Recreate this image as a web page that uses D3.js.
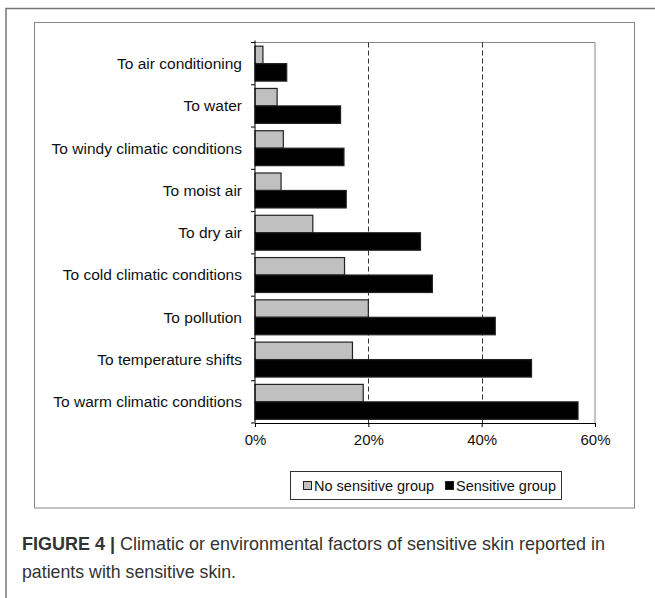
<!DOCTYPE html>
<html><head><meta charset="utf-8">
<script src="https://cdn.jsdelivr.net/npm/d3@7"></script>
<style>body{margin:0;background:#fff}svg{display:block}</style>
</head><body>
<script>
const categories = ["To air conditioning","To water","To windy climatic conditions","To moist air","To dry air","To cold climatic conditions","To pollution","To temperature shifts","To warm climatic conditions"];
const noSensitive = [1.4, 3.9, 5.0, 4.6, 10.2, 15.8, 20.0, 17.2, 19.1];
const sensitive = [5.6, 15.1, 15.7, 16.1, 29.2, 31.3, 42.4, 48.8, 57.0];
const seriesNames = ["No sensitive group","Sensitive group"];
const xTicks = [0, 20, 40, 60];

const W = 655, H = 598;
const svg = d3.select("body").append("svg").attr("width", W).attr("height", H);
const font = "'Liberation Sans', Arial, sans-serif";

// outer frame
svg.append("path").attr("d", `M6,${H} V8.5 H${W}`).attr("fill","none").attr("stroke","#777").attr("stroke-width",1.5);
// inner chart box
svg.append("rect").attr("x",34.5).attr("y",22.5).attr("width",600).attr("height",485.5)
  .attr("fill","#fff").attr("stroke","#888").attr("stroke-width",1);

const m = {left:255, right:595, top:42.5, bottom:423};
const x = d3.scaleLinear().domain([0,60]).range([m.left, m.right]);
const y = d3.scaleBand().domain(categories).range([m.top, m.bottom]).paddingInner(0).paddingOuter(0);
const inner = d3.scaleBand().domain(seriesNames).range([0, y.bandwidth()]).paddingInner(0).paddingOuter(0.21);

const g = svg.append("g");
// plot border top/right
g.append("path").attr("d", `M${m.left},${m.top} H${m.right} V${m.bottom}`).attr("fill","none").attr("stroke","#888").attr("stroke-width",1);
// gridlines
g.selectAll(".grid").data(xTicks.filter(t=>t>0 && t<60)).enter().append("line")
  .attr("x1",d=>Math.round(x(d))+0.5).attr("x2",d=>Math.round(x(d))+0.5)
  .attr("y1",m.top).attr("y2",m.bottom)
  .attr("stroke","#333").attr("stroke-dasharray","5,3").attr("stroke-width",1);

const colors = {"No sensitive group":"#c0c0c0","Sensitive group":"#000"};
const data = categories.map((c,i)=>({c, vals:[{s:seriesNames[0],v:noSensitive[i]},{s:seriesNames[1],v:sensitive[i]}]}));
const grp = g.selectAll(".cat").data(data).enter().append("g").attr("transform",d=>`translate(0,${y(d.c)})`);
grp.selectAll("rect").data(d=>d.vals).enter().append("rect")
  .attr("x", x(0)).attr("y", d=>inner(d.s)).attr("width", d=>x(d.v)-x(0)).attr("height", inner.bandwidth())
  .attr("fill", d=>colors[d.s]).attr("stroke","#222").attr("stroke-width",1.2);

// axes
const xAxis = d3.axisBottom(x).tickValues(xTicks).tickFormat(d=>d+"%").tickSize(4).tickPadding(7);
const ax = g.append("g").attr("transform",`translate(0,${m.bottom})`).call(xAxis);
ax.select(".domain").attr("stroke","#000");
ax.selectAll(".tick line").attr("stroke","#000");
ax.selectAll("text").attr("font-family",font).attr("font-size",15).attr("fill","#111");

// left axis: ticks at band boundaries
const bounds = categories.map(c=>y(c)).concat([m.bottom]);
g.append("line").attr("x1",m.left).attr("x2",m.left).attr("y1",m.top-2).attr("y2",m.bottom).attr("stroke","#000");
g.selectAll(".ytick").data(bounds).enter().append("line")
  .attr("x1",m.left-4).attr("x2",m.left).attr("y1",d=>d).attr("y2",d=>d).attr("stroke","#000");
g.selectAll(".ylab").data(categories).enter().append("text")
  .attr("x", m.left-13).attr("y", d=>y(d)+y.bandwidth()/2).attr("dy","0.35em")
  .attr("text-anchor","end").attr("font-family",font).attr("font-size",15.5).attr("fill","#111").text(d=>d);

// legend
const lg = svg.append("g");
lg.append("rect").attr("x",290.5).attr("y",471.5).attr("width",271).attr("height",28).attr("fill","#fff").attr("stroke","#333");
const legItems = [{s:seriesNames[0], x:303},{s:seriesNames[1], x:445}];
legItems.forEach(it=>{
  lg.append("rect").attr("x",it.x+0.5).attr("y",481.5).attr("width",8).attr("height",8).attr("fill",colors[it.s]).attr("stroke","#222");
  lg.append("text").attr("x",it.x+11).attr("y",486).attr("dy","0.35em").attr("font-family",font).attr("font-size",14.5).attr("fill","#111").text(it.s);
});

// caption
const cap = svg.append("text").attr("x",22).attr("y",550).attr("font-family",font).attr("font-size",19).attr("fill","#333")
  .attr("textLength",583).attr("lengthAdjust","spacingAndGlyphs");
cap.append("tspan").attr("font-weight","bold").text("FIGURE 4 | ");
cap.append("tspan").text("Climatic or environmental factors of sensitive skin reported in");
svg.append("text").attr("x",22).attr("y",578).attr("font-family",font).attr("font-size",19).attr("fill","#333")
  .attr("textLength",214).attr("lengthAdjust","spacingAndGlyphs").text("patients with sensitive skin.");
</script>
</body></html>
